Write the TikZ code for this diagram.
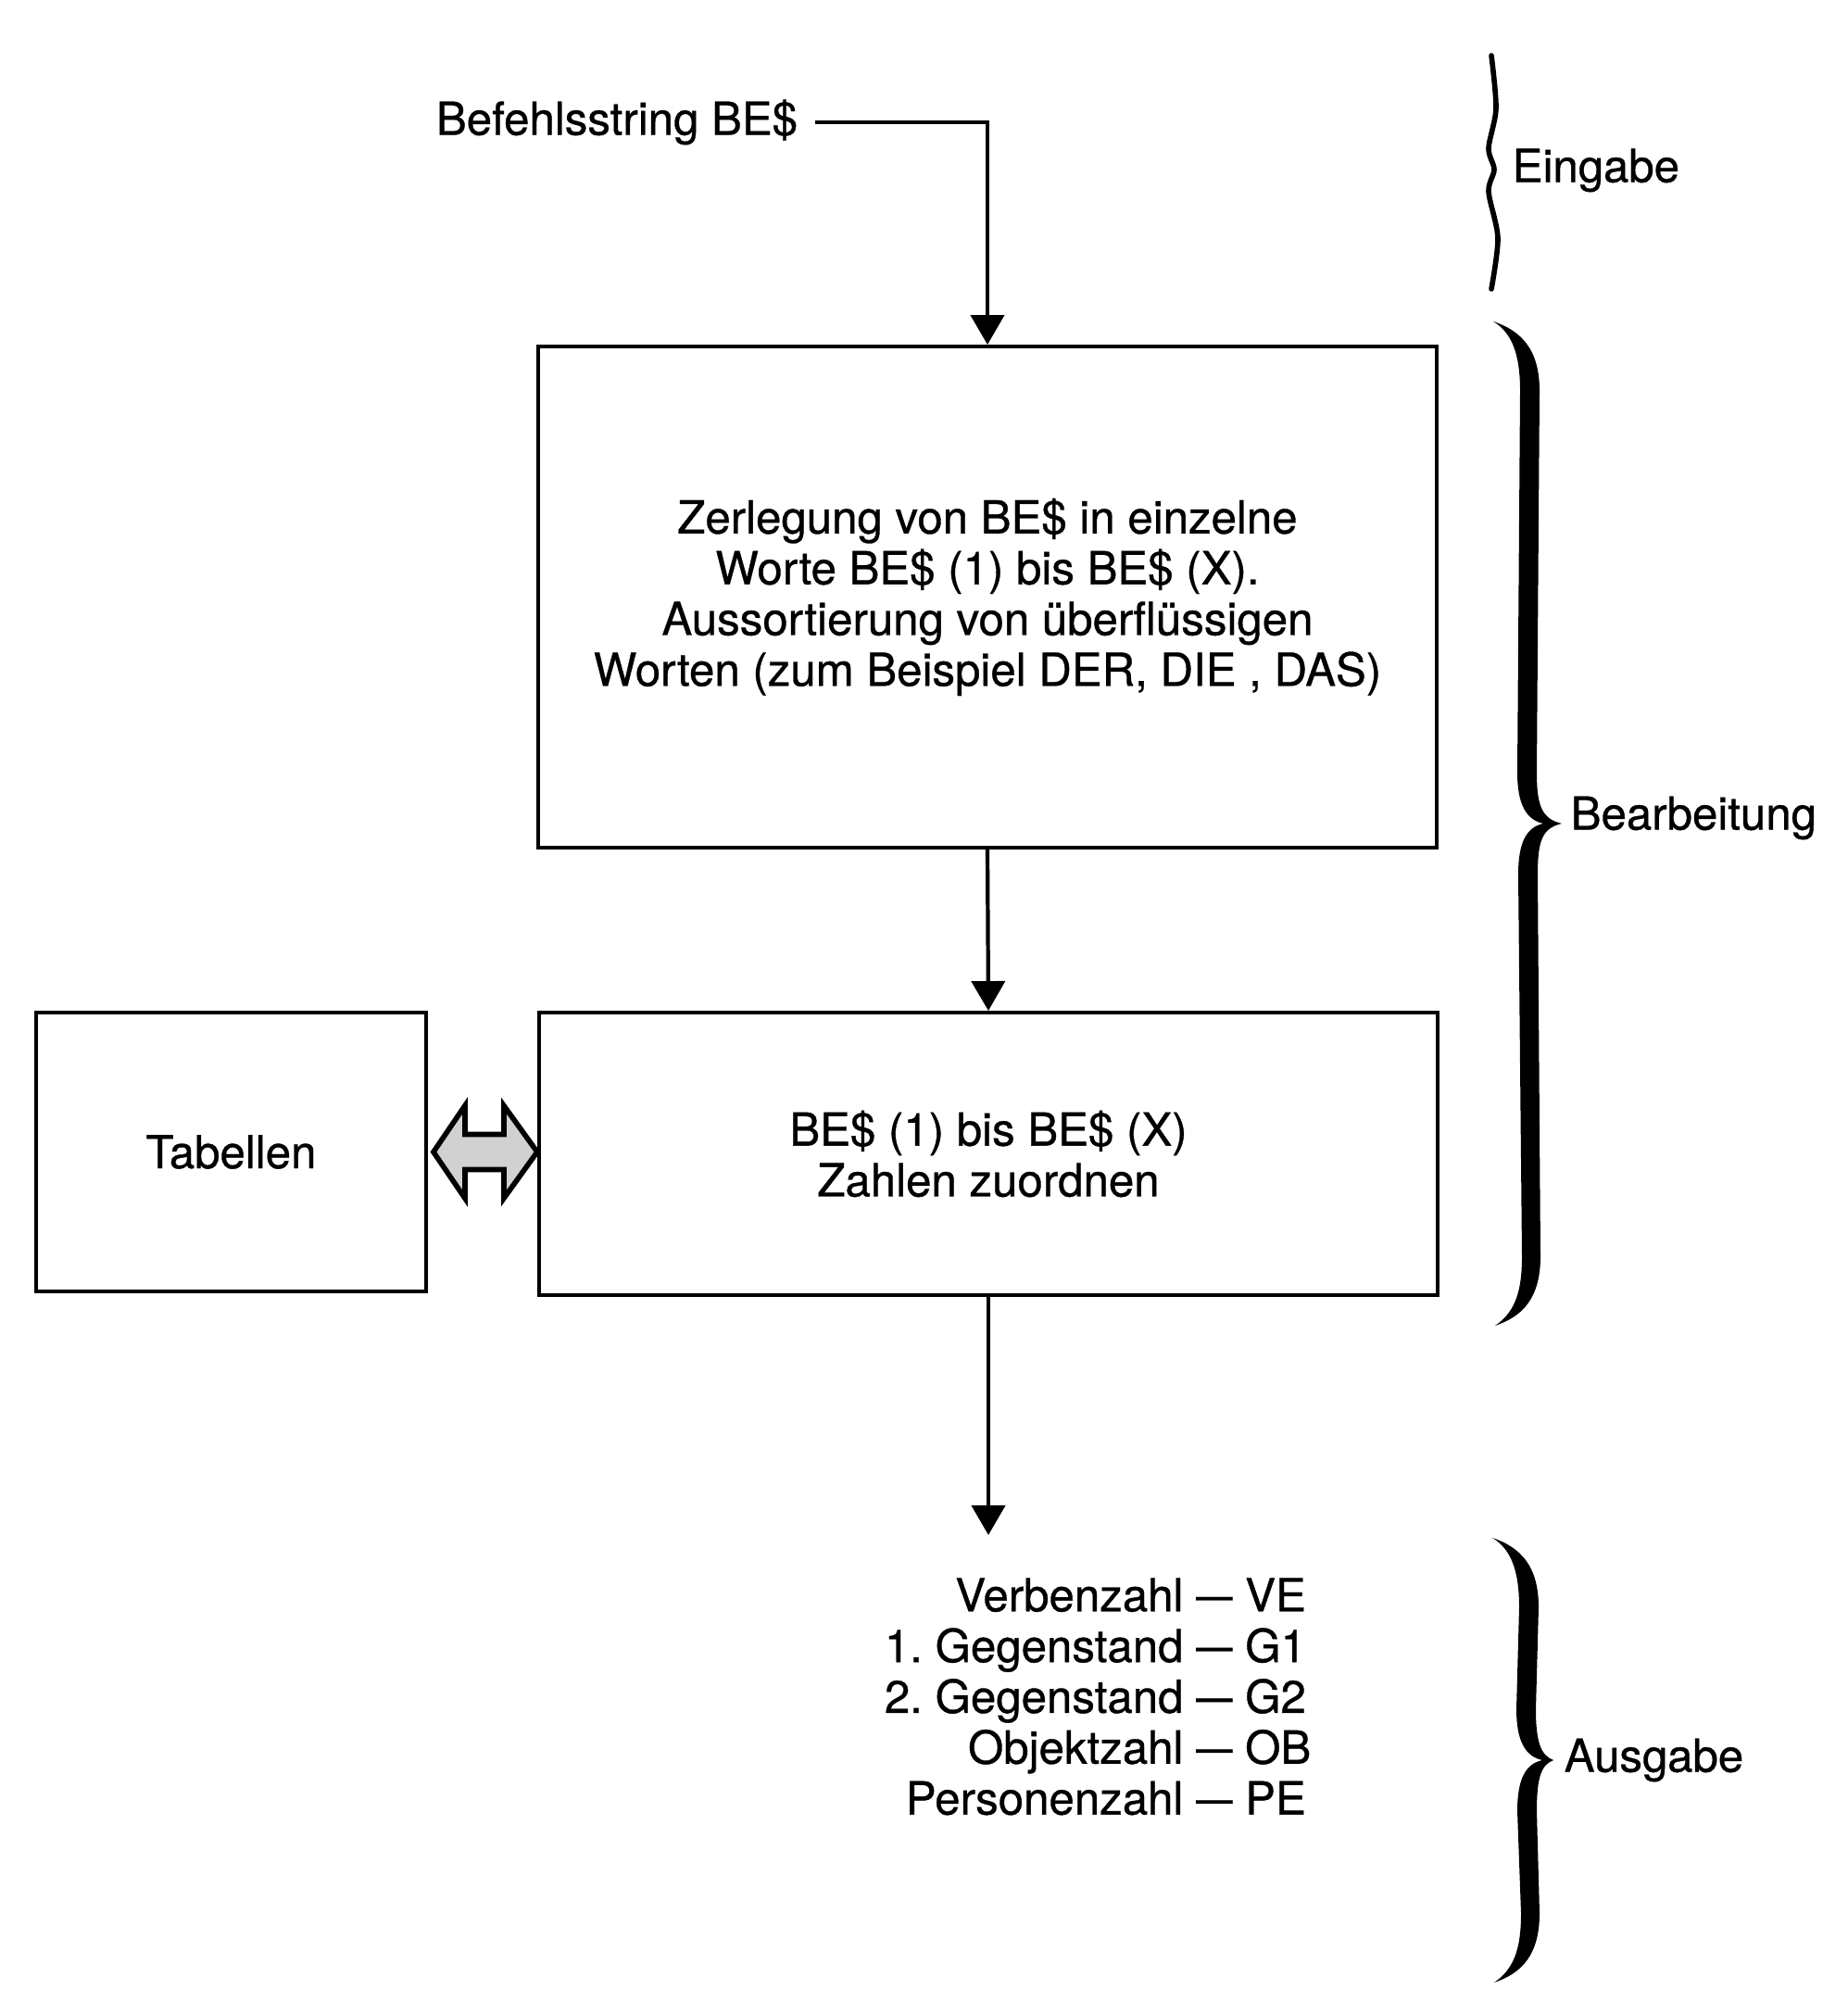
\documentclass[tikz,border=0pt]{standalone}
\usepackage{fontspec}
\setmainfont{TeX Gyre Heros}[FakeBold=0.7]
\usetikzlibrary{arrows.meta,positioning,calc}

% dicke geschweifte Klammer: Ruecken x, oben y, unten y, Spitze
\newcommand{\dickeklammer}[4]{%
  \pgfmathsetmacro\km{(#2+#3)/2}
  \fill (#1-0.38,#2) .. controls (#1-0.08,#2-0.10) and (#1+0.12,#2-0.30) .. (#1+0.12,#2-0.75)
    -- (#1+0.09,\km+0.55) .. controls (#1+0.09,\km+0.18) and (#1+0.15,\km+0.05) .. (#1+#4,\km)
    .. controls (#1+0.15,\km-0.05) and (#1+0.10,\km-0.18) .. (#1+0.10,\km-0.55)
    -- (#1+0.13,#3+0.75) .. controls (#1+0.13,#3+0.30) and (#1-0.06,#3+0.10) .. (#1-0.36,#3)
    .. controls (#1-0.12,#3+0.16) and (#1-0.07,#3+0.42) .. (#1-0.07,#3+0.75)
    -- (#1-0.11,\km-0.55) .. controls (#1-0.11,\km-0.20) and (#1-0.02,\km-0.04) .. (#1+0.16,\km)
    .. controls (#1-0.02,\km+0.04) and (#1-0.12,\km+0.20) .. (#1-0.12,\km+0.55)
    -- (#1-0.09,#2-0.75) .. controls (#1-0.09,#2-0.35) and (#1-0.18,#2-0.12) .. cycle;
}
\newcommand{\strich}{\scalebox{0.8}[1]{---}}

\tikzset{
  kasten/.style={draw, line width=1.1pt, align=center, inner sep=0pt},
  schrift/.style={font=\fontsize{14}{15.6}\selectfont\frenchspacing},
  pfeil/.style={line width=1.2pt, -{Triangle[length=0.32cm,width=0.36cm]}},
  doppelpfeil/.style={draw, line width=1.6pt, fill=black!18, line join=miter},
  marke/.style={anchor=west, inner sep=0pt}
}

\begin{document}
\begin{tikzpicture}[schrift]
        \useasboundingbox (0,0) rectangle (19.94,21.74);

        % Eingabe
        \node[inner sep=0pt] (befehl) at (6.66,20.42) {Befehlsstring BE\$};

        % Bearbeitung
        \node[kasten, minimum width=9.70cm, minimum height=5.41cm] (zerl) at (10.66,15.295)
            {Zerlegung von BE\$ in einzelne\\Worte BE\$ (1) bis BE\$ (X).\\Aussortierung von überflüssigen\\Worten (zum Beispiel DER, DIE , DAS)};
        \node[kasten, minimum width=9.70cm, minimum height=3.05cm] (zuord) at (10.67,9.285)
            {BE\$ (1) bis BE\$ (X)\\Zahlen zuordnen};
        \node[kasten, minimum width=4.21cm, minimum height=3.01cm] (tab) at (2.495,9.305) {Tabellen};

        % Ausgabe
        \coordinate (ende) at (10.67,5.17);
        \node[anchor=east, inner sep=0pt] (ausg) at (14.16,3.36)
            {\begin{tabular}{@{}r@{\ \strich\ }l@{}}
              Verbenzahl & VE\\
              1. Gegenstand & G1\\
              2. Gegenstand & G2\\
              Objektzahl & OB\\
              Personenzahl & PE
            \end{tabular}};

        % Verbindungen
        \draw[pfeil] ($(befehl.east)+(0.18,0)$) -| (zerl.north);
        \draw[pfeil] (zerl.south) -- (zuord.north);
        \draw[pfeil] (zuord.south) -- (ende);

        % Doppelpfeil Tabellen <-> Zuordnung
        \draw[doppelpfeil, shift={(tab.east)}] (0.06,0) -- (0.40,0.50) -- (0.40,0.19) -- (0.82,0.19)
            -- (0.82,0.50) -- (1.18,0) -- (0.82,-0.50) -- (0.82,-0.19) -- (0.40,-0.19)
            -- (0.40,-0.50) -- cycle;

        % Klammern
        \draw[line width=1.6pt, line cap=round] plot[smooth] coordinates
            {(16.10,21.14) (16.15,20.57) (16.07,20.14) (16.13,19.91) (16.07,19.67) (16.17,19.17) (16.10,18.62)};
        \dickeklammer{16.50}{18.27}{7.43}{0.36}
        \dickeklammer{16.49}{5.14}{0.34}{0.28}

        % Labels
        \node[marke] (eingabe) at (16.32,19.90) {Eingabe};
        \node[marke] (bearb) at (16.95,12.91) {Bearbeitung};
        \node[marke] (ausgabe) at (16.88,2.74) {Ausgabe};
    \end{tikzpicture}
\end{document}
